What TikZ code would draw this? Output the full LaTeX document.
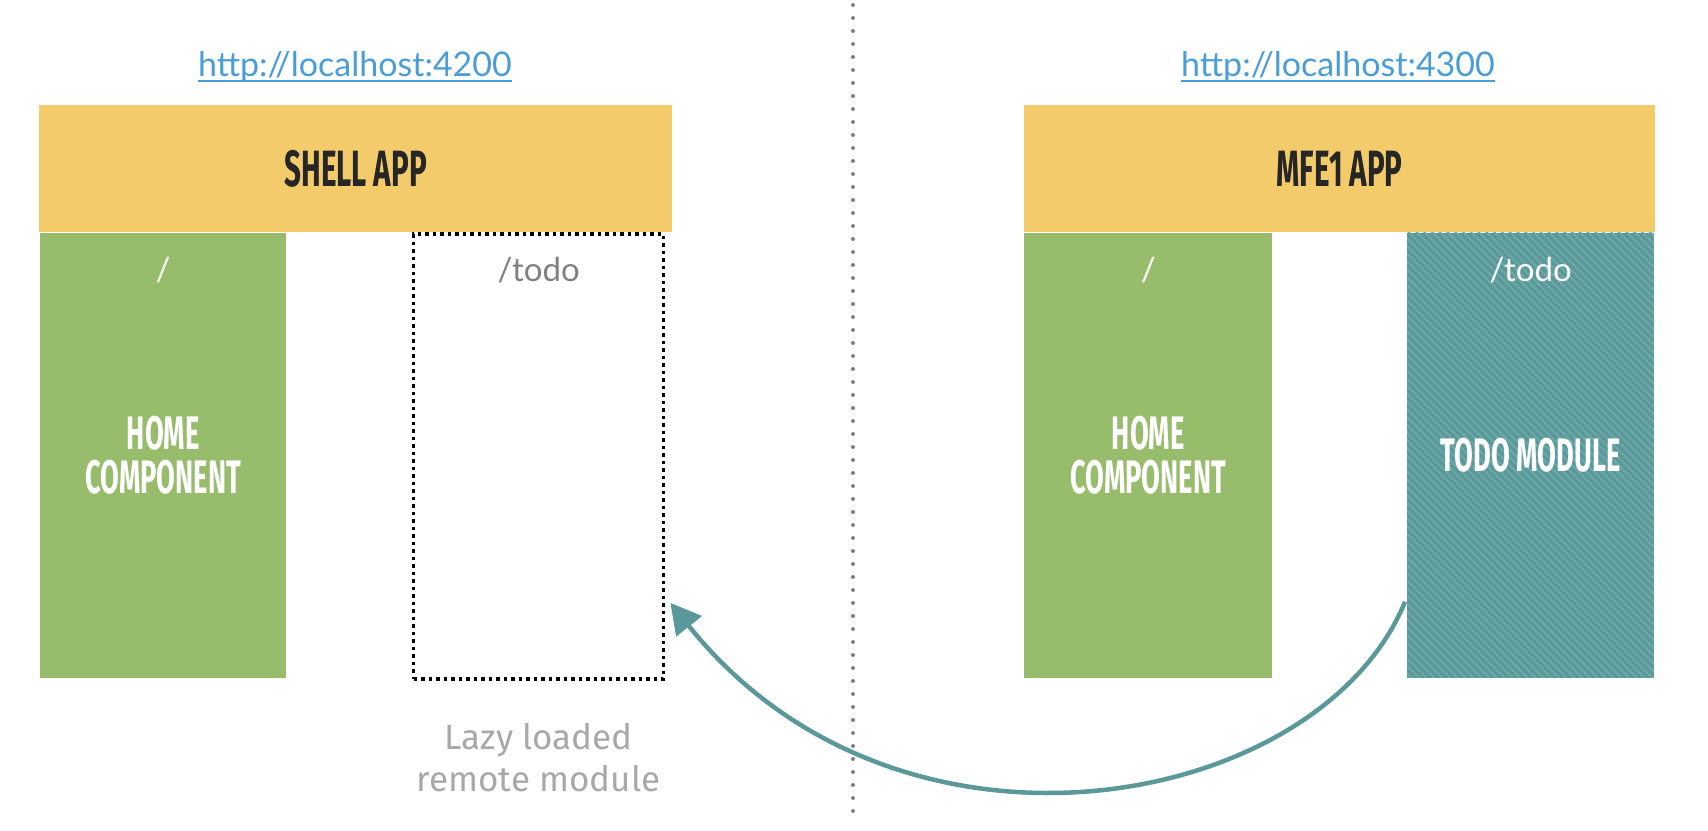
\documentclass[tikz,border=0pt]{standalone}
\usepackage{fontspec}
\setmainfont{Lato}
\newfontfamily\headfont[FakeStretch=0.58]{Fira Sans}
\newfontfamily\notefont{Fira Sans}
\usetikzlibrary{calc,patterns.meta,arrows.meta}

\definecolor{appyellow}{HTML}{F3CB6A}
\definecolor{homegreen}{HTML}{97BC6C}
\definecolor{moduleteal}{HTML}{5A9899}
\definecolor{stripeteal}{HTML}{6DA9A9}
\definecolor{urlblue}{HTML}{4A9DD6}
\definecolor{routegray}{HTML}{808080}
\definecolor{notegray}{HTML}{A8A8A8}
\definecolor{headdark}{HTML}{262626}

\tikzset{
  appbar/.style={fill=appyellow, inner sep=0, minimum width=633, minimum height=127.5,
    text=headdark, font=\headfont\bfseries\fontsize{51}{54}\selectfont},
  homebox/.style={fill=homegreen, inner sep=0, minimum width=246, minimum height=445,
    text=white, align=center, font=\headfont\bfseries\fontsize{47}{44}\selectfont},
  remotebox/.style={draw=black, line width=3.5pt, dash pattern=on 3.5pt off 4pt,
    inner sep=0, minimum width=250, minimum height=445},
  modulebox/.style={fill=moduleteal, postaction={pattern={Lines[angle=-45,distance=5.5pt,line width=2pt]}, pattern color=stripeteal},
    inner sep=0, minimum width=247, minimum height=445,
    text=white, font=\headfont\bfseries\fontsize{47}{44}\selectfont},
  urltext/.style={text=urlblue, inner sep=0, font=\fontsize{34}{36}\selectfont},
  routetext/.style={inner sep=0, font=\fontsize{33}{35}\selectfont},
  notetext/.style={text=notegray, inner sep=0, align=center, font=\notefont\fontsize{35}{42}\selectfont},
  sepline/.style={draw=gray, line width=4pt, line cap=round, dash pattern=on 0pt off 13pt},
  loadarrow/.style={draw=moduleteal, line width=4.5pt, -{Triangle[length=30pt,width=32pt]}}
}

\begin{document}
\begin{tikzpicture}[x=1pt, y=1pt]
    \useasboundingbox (0,0) rectangle (1708,830);

    % separator
    \coordinate (septop) at (853,825);
    \coordinate (sepbottom) at (853,13);
    \draw[sepline] (septop) -- (sepbottom);

    % shell side
    \node[urltext] (shellurl) at (355,763) {http://localhost:4200};
    \draw[urlblue, line width=2pt] ($(shellurl.base west)+(0,-4)$) -- ($(shellurl.base east)+(0,-4)$);
    \node[appbar, anchor=north west] (shellapp) at (39,725.5) {SHELL APP};
    \node[homebox, anchor=north west] (shellhome) at ($(shellapp.south west)+(1,0)$) {HOME\\COMPONENT};
    \node[remotebox, anchor=north east] (shelltodo) at ($(shellapp.south east)+(-7,0)$) {};
    \node[routetext, text=white] (shellroot) at ($(shellhome.north)+(0,-38)$) {/};
    \node[routetext, text=routegray] (shellroute) at ($(shelltodo.north)+(0,-38)$) {/todo};
    \node[notetext] (lazynote) at ($(shelltodo.south)+(0,-77)$) {Lazy loaded\\remote module};

    % mfe1 side
    \node[urltext] (mfeurl) at (1338,763) {http://localhost:4300};
    \draw[urlblue, line width=2pt] ($(mfeurl.base west)+(0,-4)$) -- ($(mfeurl.base east)+(0,-4)$);
    \node[appbar, anchor=north west, minimum width=631] (mfeapp) at (1024,725.5) {MFE1 APP};
    \node[homebox, anchor=north west, minimum width=248] (mfehome) at (mfeapp.south west) {HOME\\COMPONENT};
    \node[modulebox, anchor=north east] (mfetodo) at ($(mfeapp.south east)+(-1,0)$) {TODO MODULE};
    \node[routetext, text=white] (mferoot) at ($(mfehome.north)+(0,-38)$) {/};
    \node[routetext, text=white] (mferoute) at ($(mfetodo.north)+(0,-38)$) {/todo};

    % lazy loading arrow
    \coordinate (loadstart) at ($(mfetodo.south west)+(-2,76)$);
    \coordinate (loadend) at ($(shelltodo.south east)+(5,78)$);
    \draw[loadarrow] (loadstart) .. controls (1320,20) and (900,-60) .. (loadend);

\end{tikzpicture}
\end{document}
